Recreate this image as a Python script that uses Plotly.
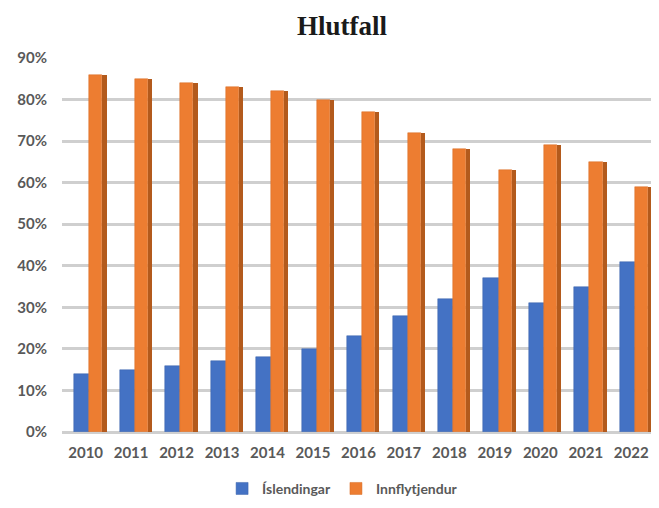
import plotly.graph_objects as go

years = [2010, 2011, 2012, 2013, 2014, 2015, 2016, 2017, 2018, 2019, 2020, 2021, 2022]
islendingar = [0.14, 0.15, 0.16, 0.17, 0.18, 0.20, 0.23, 0.28, 0.32, 0.37, 0.31, 0.35, 0.41]
innflytjendur = [0.86, 0.85, 0.84, 0.83, 0.82, 0.80, 0.77, 0.72, 0.68, 0.63, 0.69, 0.65, 0.59]

BLUE = '#4472c4'
ORANGE = '#ed7d31'
ORANGE_SIDE = '#b35a1c'
TXT = '#595959'

fig = go.Figure()

# front faces
fig.add_trace(go.Bar(
    x=years, y=islendingar, name='<b>Íslendingar</b>',
    marker=dict(color=BLUE, line=dict(color='#3a62ab', width=0.5)),
    width=0.33, offset=-0.25,
))
fig.add_trace(go.Bar(
    x=years, y=innflytjendur, name='<b>Innflytjendur</b>',
    marker=dict(color=ORANGE, line=dict(color='#d66c24', width=0.5)),
    width=0.29, offset=0.08,
))
# darker side face to hint at the 3D columns
fig.add_trace(go.Bar(
    x=years, y=innflytjendur, showlegend=False, hoverinfo='skip',
    marker=dict(color=ORANGE_SIDE, line=dict(width=0)),
    width=0.09, offset=0.37,
))

# page body has an 8px margin; keep the figure small enough to avoid scrollbars
fig.update_layout(
    width=651, height=490,
    barmode='overlay',
    paper_bgcolor='white', plot_bgcolor='white',
    margin=dict(l=54, r=0, t=50, b=66, autoexpand=False),
    title=dict(text='<b>Hlutfall</b>', x=0.513, xanchor='center',
               y=0.964, yanchor='middle',
               font=dict(family='Liberation Serif', size=27, color='#1a1a1a')),
    font=dict(family='Lato', color=TXT),
    legend=dict(orientation='h', x=0.47, xanchor='center', y=-0.152, yanchor='middle',
                font=dict(family='Lato', size=14, color=TXT),
                itemwidth=30, traceorder='normal'),
    bargap=0,
)

fig.update_xaxes(
    range=[2009.48, 2022.61], automargin=False,
    tickmode='array', tickvals=years, ticktext=[f'<b>{y}</b>' for y in years],
    tickfont=dict(size=15, color=TXT),
    showgrid=False, zeroline=False, showline=False, ticks='',
    ticklabelstandoff=10,
)
fig.update_yaxes(
    range=[0, 0.9], dtick=0.1, tickformat='.0%', automargin=False,
    tickfont=dict(size=15, color=TXT),
    tickprefix='<b>', ticksuffix='</b>',
    showgrid=True, gridcolor='#cfcfcf', gridwidth=2.5,
    zeroline=True, zerolinecolor='#cfcfcf', zerolinewidth=2.5,
    showline=False, ticks='', ticklabelstandoff=14,
)

fig.write_html('out.html')
